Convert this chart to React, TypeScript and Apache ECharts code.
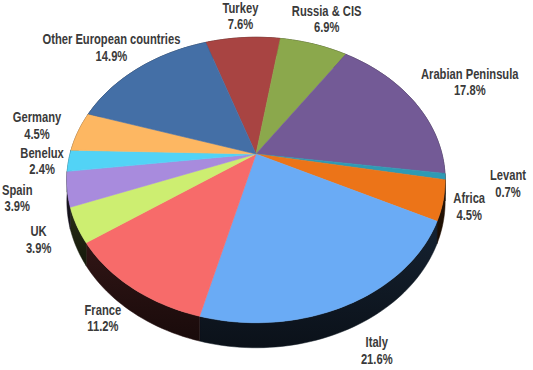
import React, { useEffect, useRef } from "react";
import * as echarts from "echarts";

const categories = [
  "Turkey",
  "Russia & CIS",
  "Arabian Peninsula",
  "Levant",
  "Africa",
  "Italy",
  "France",
  "UK",
  "Spain",
  "Benelux",
  "Germany",
  "Other European countries",
];
const shares = [7.6, 6.9, 17.8, 0.7, 4.5, 21.6, 11.2, 3.9, 3.9, 2.4, 4.5, 14.9];
const colors = [
  "#A84442", "#8BA84C", "#735A96", "#2E9AB4", "#EC7418", "#6AABF5",
  "#F76B6A", "#CDEE71", "#A88BDD", "#52D3F6", "#FDB762", "#446FA6",
];
// label distance from centre, as a multiple of the radius (layout only)
const labelRadius = [1.22, 1.27, 1.39, 1.32, 1.13, 1.245, 1.19, 1.19, 1.25, 1.14, 1.24, 1.27];

const Xc = 256, Yc = 154, RX = 186, RY = 138, K = 0.182, DEPTH = 20.5, START = -18.5;

function proj(r: number, deg: number, drop = 0): number[] {
  const t = (deg * Math.PI) / 180;
  const x = r * Math.sin(t);
  const y = -r * Math.cos(t);
  const w = 1 - K * y;
  return [Xc + (RX * x) / w, Yc + (RY * y) / w + drop / w];
}

function darken(hex: string, f: number): string {
  const n = parseInt(hex.slice(1), 16);
  const r = Math.round(((n >> 16) & 255) * f);
  const g = Math.round(((n >> 8) & 255) * f);
  const b = Math.round((n & 255) * f);
  return `rgb(${r},${g},${b})`;
}

const total = shares.reduce((a, b) => a + b, 0);
const starts: number[] = [];
shares.reduce((acc, v, i) => { starts[i] = acc; return acc + v; }, 0);
const seriesData = shares.map((v, i) => [starts[i], v]);

function angles(api: any) {
  const s = api.value(0) as number;
  const v = api.value(1) as number;
  const a0 = START + (s / total) * 360;
  const a1 = a0 + (v / total) * 360;
  const n = Math.max(2, Math.ceil((a1 - a0) / 1.5));
  const list: number[] = [];
  for (let j = 0; j <= n; j++) list.push(a0 + ((a1 - a0) * j) / n);
  return { a0, a1, list };
}

export default function App() {
  const ref = useRef<HTMLDivElement>(null);
  useEffect(() => {
    if (!ref.current) return;
    const chart = echarts.init(ref.current, undefined, { renderer: "svg" });
    chart.setOption({
      animation: false,
      backgroundColor: "#ffffff",
      series: [
        {
          type: "custom",
          name: "side",
          coordinateSystem: "none",
          data: seriesData,
          z: 1,
          silent: true,
          renderItem: (params: any, api: any) => {
            const i = params.dataIndex;
            const { list } = angles(api);
            const top = list.map((a) => proj(1, a));
            const bottom = list.slice().reverse().map((a) => proj(1, a, DEPTH));
            return {
              type: "polygon",
              shape: { points: top.concat(bottom) },
              style: {
                fill: {
                  type: "linear", x: 0, y: 0, x2: 0, y2: 1,
                  colorStops: [
                    { offset: 0, color: darken(colors[i], 0.2) },
                    { offset: 1, color: darken(colors[i], 0.1) },
                  ],
                },
                stroke: darken(colors[i], 0.15),
                lineWidth: 0.5,
              },
            };
          },
        },
        {
          type: "custom",
          name: "top",
          coordinateSystem: "none",
          data: seriesData,
          z: 2,
          renderItem: (params: any, api: any) => {
            const i = params.dataIndex;
            const { a0, a1, list } = angles(api);
            const pts = [proj(0, 0)].concat(list.map((a) => proj(1, a)));
            const mid = (a0 + a1) / 2;
            const lp = proj(labelRadius[i], mid);
            return {
              type: "group",
              children: [
                {
                  type: "polygon",
                  shape: { points: pts },
                  style: { fill: colors[i], stroke: colors[i], lineWidth: 0.6 },
                },
                {
                  type: "text",
                  x: lp[0],
                  y: lp[1],
                  scaleX: 0.8,
                  z2: 10,
                  style: {
                    text: `${categories[i]}\n${(api.value(1) as number).toFixed(1)}%`,
                    fill: "#3a3a3a",
                    fontSize: 14,
                    fontWeight: "bold",
                    fontFamily: "'Liberation Sans', Arial, sans-serif",
                    align: "center",
                    verticalAlign: "middle",
                    lineHeight: 16.5,
                  },
                },
              ],
            };
          },
        },
      ],
    });
    return () => chart.dispose();
  }, []);
  return (
    <div
      ref={ref}
      style={{ position: "fixed", left: 0, top: 0, width: 533, height: 370 }}
    />
  );
}
